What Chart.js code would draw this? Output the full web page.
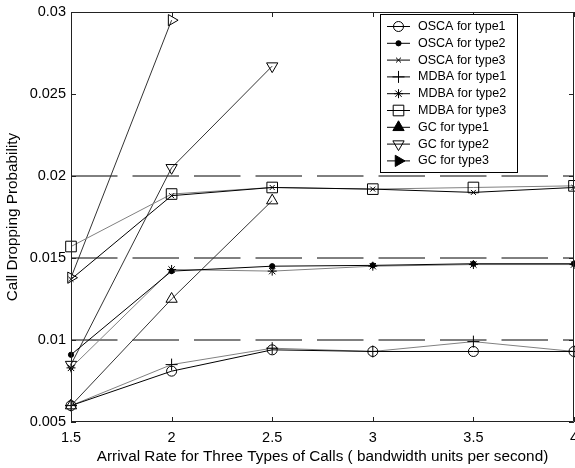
<!DOCTYPE html>
<html>
<head>
<meta charset="utf-8">
<script src="https://cdn.jsdelivr.net/npm/chart.js@4.4.0/dist/chart.umd.min.js"></script>
<style>
  html, body { margin: 0; padding: 0; background: #fff; }
</style>
</head>
<body>
<canvas id="plot" width="575" height="468"></canvas>
<script>
  // arrival rates on the x axis
  const rates = [1.5, 2, 2.5, 3, 3.5, 4];

  // call dropping probability
  const oscaType1 = [0.0060, 0.0081, 0.0094, 0.0093, 0.0093, 0.0093];
  const oscaType2 = [0.0091, 0.0142, 0.0145, 0.01455, 0.01465, 0.01465];
  const oscaType3 = [0.0137, 0.0188, 0.0193, 0.0192, 0.0190, 0.0193];
  const mdbaType1 = [0.0060, 0.0085, 0.0095, 0.0093, 0.0099, 0.0093];
  const mdbaType2 = [0.0083, 0.0143, 0.0142, 0.0145, 0.0146, 0.0146];
  const mdbaType3 = [0.0157, 0.0189, 0.0193, 0.0192, 0.0193, 0.0194];
  const gcType1 = [0.0060, 0.0125, 0.0185];
  const gcType2 = [0.0085, 0.0205, 0.0267];
  const gcType3 = [0.0138, 0.0295];

  // dashed threshold lines
  const dropLimits = [0.01, 0.015, 0.02];

  const xTicks = [1.5, 2, 2.5, 3, 3.5, 4];
  const yTicks = [0.005, 0.01, 0.015, 0.02, 0.025, 0.03];
  const xTickLabels = ["1.5", "2", "2.5", "3", "3.5", "4"];
  const yTickLabels = ["0.005", "0.01", "0.015", "0.02", "0.025", "0.03"];

  const seriesNames = ["OSCA for type1", "OSCA for type2", "OSCA for type3",
                       "MDBA for type1", "MDBA for type2", "MDBA for type3",
                       "GC for type1", "GC for type2", "GC for type3"];

  const FONT = "'Liberation Sans', Arial, Helvetica, sans-serif";

  function toPoints(values) {
    let pts = [];
    for (let i = 0; i < values.length; i++)
      pts.push({x: rates[i], y: values[i]});
    return pts;
  }

  // marker looks for every series (style, radius, rotation, filled?)
  const markers = [
    {style: 'circle', r: 5, rot: 0, fill: false},
    {style: 'circle', r: 2.6, rot: 0, fill: true},
    {style: 'crossRot', r: 3.5, rot: 0, fill: false},
    {style: 'cross', r: 6, rot: 0, fill: false},
    {style: 'star', r: 4.5, rot: 0, fill: false},
    {style: 'rect', r: 7.5, rot: 0, fill: false},
    {style: 'triangle', r: 6.5, rot: 0, fill: false},
    {style: 'triangle', r: 6.5, rot: 180, fill: false},
    {style: 'triangle', r: 6.5, rot: 90, fill: false}
  ];
  const lineColors = ['#000', '#000', '#000', '#808080', '#808080', '#808080', '#333', '#333', '#333'];
  const allSeries = [oscaType1, oscaType2, oscaType3, mdbaType1, mdbaType2, mdbaType3, gcType1, gcType2, gcType3];

  let datasets = [];
  for (let i = 0; i < allSeries.length; i++) {
    let m = markers[i];
    datasets.push({
      label: seriesNames[i],
      data: toPoints(allSeries[i]),
      borderColor: lineColors[i],
      borderWidth: 1,
      fill: false,
      tension: 0,
      clip: false,
      pointStyle: m.style,
      pointRadius: m.r,
      pointRotation: m.rot,
      pointBorderColor: '#000',
      pointBorderWidth: 1,
      pointBackgroundColor: m.fill ? '#000' : 'rgba(0,0,0,0)'
    });
  }
  for (let i = 0; i < dropLimits.length; i++) {
    datasets.push({
      label: 'limit',
      data: [{x: rates[0], y: dropLimits[i]}, {x: rates[rates.length - 1], y: dropLimits[i]}],
      borderColor: '#000',
      borderWidth: 1,
      borderDash: [46.5, 15],
      pointRadius: 0,
      fill: false
    });
  }

  // box around the plot + inward ticks on all four sides (matlab style)
  const boxPlugin = {
    id: 'box',
    afterDatasetsDraw(chart) {
      const ctx = chart.ctx;
      const a = chart.chartArea;
      const xs = chart.scales.x, ys = chart.scales.y;
      ctx.save();
      ctx.strokeStyle = '#222';
      ctx.lineWidth = 1;
      ctx.beginPath();
      ctx.moveTo(a.left + 0.5, a.top + 0.5);
      ctx.lineTo(a.right - 0.5, a.top + 0.5);
      ctx.lineTo(a.right - 0.5, a.bottom - 0.5);
      ctx.lineTo(a.left + 0.5, a.bottom - 0.5);
      ctx.closePath();
      ctx.stroke();
      ctx.beginPath();
      for (let v of xTicks) {
        let px = Math.round(xs.getPixelForValue(v)) + 0.5;
        ctx.moveTo(px, a.bottom); ctx.lineTo(px, a.bottom - 5);
        ctx.moveTo(px, a.top); ctx.lineTo(px, a.top + 5);
      }
      for (let v of yTicks) {
        let py = Math.round(ys.getPixelForValue(v)) + 0.5;
        ctx.moveTo(a.left, py); ctx.lineTo(a.left + 5, py);
        ctx.moveTo(a.right, py); ctx.lineTo(a.right - 5, py);
      }
      ctx.stroke();
      ctx.restore();
    },
    afterDraw(chart) {
      // legend box in the upper right
      const ctx = chart.ctx;
      const left = 380.5, top = 14.5, w = 137, h = 158;
      ctx.save();
      ctx.fillStyle = '#fff';
      ctx.fillRect(left, top, w, h);
      ctx.strokeStyle = '#000';
      ctx.lineWidth = 1;
      ctx.strokeRect(left, top, w, h);
      ctx.font = '12.5px ' + FONT;
      ctx.textBaseline = 'middle';
      ctx.textAlign = 'left';
      for (let i = 0; i < seriesNames.length; i++) {
        let y = 26.5 + i * 16.8;
        ctx.strokeStyle = '#000';
        ctx.beginPath();
        ctx.moveTo(387, y); ctx.lineTo(410, y);
        ctx.stroke();
        let m = markers[i];
        let legendFill = m.fill || i == 6 || i == 8;
        ctx.fillStyle = legendFill ? '#000' : 'rgba(0,0,0,0)';
        Chart.helpers.drawPoint(ctx, {pointStyle: m.style, radius: m.r, rotation: m.rot, borderWidth: 1}, 398.5, y);
        ctx.fillStyle = '#000';
        ctx.fillText(seriesNames[i], 418, y);
      }
      ctx.restore();
    }
  };

  const config = {
    type: 'line',
    data: {datasets: datasets},
    options: {
      responsive: false,
      animation: false,
      events: [],
      layout: {autoPadding: false, padding: {top: 12, right: 1, left: 0, bottom: 0}},
      plugins: {
        legend: {display: false},
        tooltip: {enabled: false}
      },
      scales: {
        x: {
          type: 'linear',
          min: 1.5,
          max: 4,
          afterBuildTicks: s => { s.ticks = xTicks.map(v => ({value: v})); },
          afterFit: s => { s.height = 46; s.paddingLeft = 0; s.paddingRight = 0; },
          grid: {display: false, drawTicks: false},
          border: {display: false},
          ticks: {
            padding: 7,
            color: '#000',
            maxRotation: 0,
            autoSkip: false,
            font: {family: FONT, size: 14.5},
            callback: (v, i) => xTickLabels[i]
          },
          title: {
            display: true,
            text: 'Arrival Rate for Three Types of Calls ( bandwidth units per second)',
            color: '#000',
            font: {family: FONT, size: 15.3},
            padding: {top: 0, bottom: 2}
          }
        },
        y: {
          min: 0.005,
          max: 0.03,
          afterBuildTicks: s => { s.ticks = yTicks.map(v => ({value: v})); },
          afterFit: s => { s.width = 71; s.paddingTop = 0; s.paddingBottom = 0; },
          grid: {display: false, drawTicks: false},
          border: {display: false},
          ticks: {
            padding: 5,
            color: '#000',
            autoSkip: false,
            font: {family: FONT, size: 14.5},
            callback: (v, i) => yTickLabels[i]
          },
          title: {
            display: true,
            text: 'Call Dropping Probability',
            color: '#000',
            font: {family: FONT, size: 15.3},
            padding: {top: 4, bottom: 0}
          }
        }
      }
    },
    plugins: [boxPlugin]
  };

  let chart = new Chart(document.getElementById('plot').getContext('2d'), config);
</script>
</body>
</html>
